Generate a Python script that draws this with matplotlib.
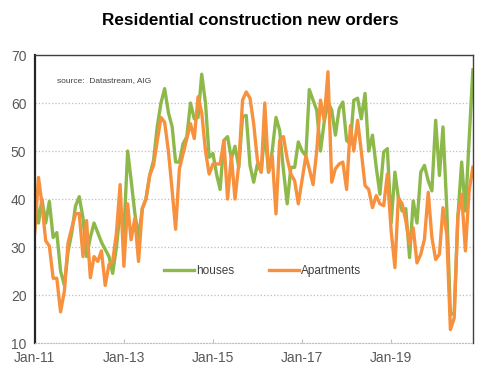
import numpy as np
import pandas as pd
import matplotlib
matplotlib.use('Agg')
import matplotlib.pyplot as plt
import matplotlib.dates as mdates

plt.rcParams['font.family'] = ['Liberation Sans', 'DejaVu Sans']

# monthly index, Jan-11 .. Nov-20
months = pd.date_range('2011-01-01', periods=119, freq='MS')

houses = [
    41.7, 35, 40, 35, 39.5, 32, 33, 25, 22, 29, 33, 38.5, 40.5, 36, 28, 32,
    35, 33, 31, 29.5, 28, 24.5, 30, 37.5, 33, 50, 44, 37, 32, 38, 40, 45,
    48, 55, 60, 63, 58, 55, 47.7, 47.7, 51.5, 53, 60, 56.7, 57, 66, 60, 48.7,
    49.5, 45, 42, 52.2, 53, 48.4, 51, 46.6, 57.2, 57.4, 47, 43.5, 47.3, 45.6,
    54.4, 45.6, 50, 57, 54.3, 46, 39, 46.6, 46.6, 51.9, 50, 49, 62.8, 60.6,
    58.5, 50, 56, 60.2, 58.5, 53.3, 58.8, 60.2, 52.2, 51.5, 60.6, 61, 56.7,
    62, 50, 53.3, 46.6, 41, 49.8, 50.5, 35, 45.6, 40.3, 37.5, 38, 27.8, 39.6,
    35, 45.6, 47, 43.8, 41.7, 56.4, 44.9, 55, 38.2, 15.9, 16.3, 36.2, 47.7,
    37.5, 52.2, 66.9,
]

apartments = [
    33, 44.5, 39, 31.3, 30.2, 23.5, 23.5, 16.5, 20.8, 30.8, 34, 36.9, 37, 28,
    35.5, 23.6, 28, 27, 29.2, 22, 26.4, 27, 33, 43, 26, 39, 31.5, 36, 27, 38,
    40, 45, 47, 52, 57, 56, 50, 41.7, 33.7, 46.3, 49.4, 52.6, 55.7, 52.6, 61.3,
    58, 50, 45.2, 47.3, 47.3, 47.3, 52.2, 40, 49, 40, 47.3, 60.6, 62.3, 61,
    55.7, 48, 45.6, 60, 45.6, 49, 36.9, 52.2, 53, 48.4, 45.2, 43.8, 39, 44, 49,
    46.3, 43, 50, 60.6, 56.4, 66.5, 43.5, 46.3, 47.3, 47.7, 42, 55.3, 50, 56.4,
    50, 42.8, 42, 38.2, 40.7, 39, 38.6, 45.2, 33.4, 25.7, 40.3, 39, 35.5, 30.6,
    34, 26.7, 28.5, 31.6, 41.4, 32, 27.4, 28.5, 38.2, 32.7, 12.8, 15.2, 36.5,
    41, 29.2, 41.7, 46.6,
]

green = '#8DB94A'
orange = '#F7913D'
grey = '#595959'

fig = plt.figure(figsize=(4.89, 3.82), dpi=100)
ax = fig.add_axes([0.071, 0.102, 0.896, 0.754])

ax.plot(months, houses, color=green, lw=2.4, label='houses')
ax.plot(months, apartments, color=orange, lw=2.4, label='Apartments')

ax.set_ylim(10, 70)
ax.set_yticks(range(10, 71, 10))
ax.set_xlim(months[0], months[-1])
ax.set_xticks(pd.date_range('2011-01-01', '2019-01-01', freq='24MS'))
ax.xaxis.set_major_formatter(mdates.DateFormatter('Jan-%y'))

ax.grid(axis='y', color='#BFBFBF', ls=':', lw=0.9)
for s in ['top', 'right']:
    ax.spines[s].set_color('#404040')
    ax.spines[s].set_linewidth(1.0)
ax.spines['left'].set_color('#262626')
ax.spines['left'].set_linewidth(1.6)
ax.spines['bottom'].set_color('#BFBFBF')
ax.spines['bottom'].set_linestyle(':')
ax.tick_params(axis='both', labelsize=10, labelcolor=grey)
ax.tick_params(axis='y', length=0, pad=6)
ax.tick_params(axis='x', direction='in', length=3, color='#BFBFBF', pad=6)

ax.text(0.05, 0.905, 'source:  Datastream, AIG', transform=ax.transAxes,
        fontsize=6, color='#404040')

ax.legend(loc='center', bbox_to_anchor=(0.52, 0.25), ncol=2, frameon=False,
          fontsize=8.5, labelcolor='#404040', handlelength=2.5,
          handletextpad=0.15, columnspacing=3.0)

fig.suptitle('Residential construction new orders', x=0.512, y=0.965,
             fontsize=12.3, fontweight='bold')

fig.savefig('out.png', dpi=100)
